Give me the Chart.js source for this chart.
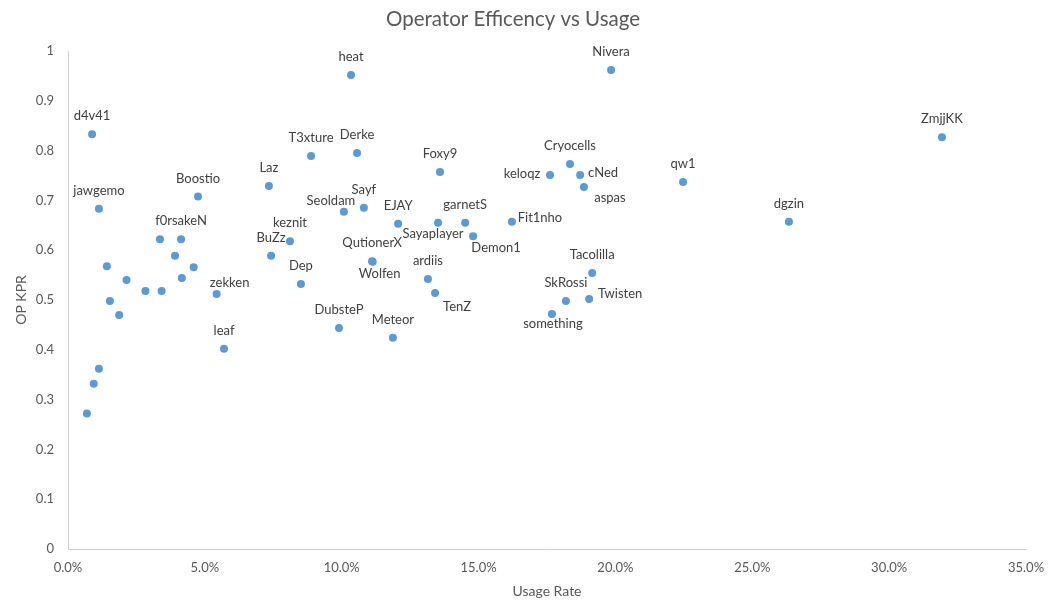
<!DOCTYPE html>
<html>
<head>
<meta charset="utf-8">
<script src="https://cdn.jsdelivr.net/npm/chart.js@4.4.1/dist/chart.umd.min.js"></script>
<style>
body{margin:0;background:#fff}
#wrap{width:1048px;height:610px}
</style>
</head>
<body>
<div id="wrap"><canvas id="chart1"></canvas></div>
<script>
const players = ["d4v41","jawgemo","","","","","","","","","f0rsakeN","","","Boostio","zekken","leaf","","","",
 "Laz","BuZz","keznit","Dep","T3xture","DubsteP","Seoldam","heat","Derke","Sayf","QutionerX","Wolfen","Meteor","EJAY",
 "ardiis","TenZ","Sayaplayer","Foxy9","garnetS","Demon1","Fit1nho","keloqz","something","SkRossi","Cryocells","cNed",
 "aspas","Twisten","Tacolilla","Nivera","qw1","dgzin","ZmjjKK"]
const usage = [0.88,1.13,1.42,1.53,1.87,2.14,2.83,3.36,3.42,3.91,4.13,4.16,4.59,4.75,5.43,5.70,1.13,0.94,0.69,
 7.34,7.42,8.11,8.51,8.88,9.90,10.08,10.34,10.56,10.81,11.11,11.13,11.87,12.06,
 13.15,13.41,13.52,13.59,14.51,14.80,16.22,17.61,17.68,18.19,18.34,18.71,
 18.85,19.04,19.15,19.84,22.47,26.34,31.93]
const kpr = [0.833,0.683,0.568,0.498,0.470,0.540,0.518,0.622,0.518,0.589,0.622,0.544,0.566,0.708,0.512,0.402,0.362,0.332,0.272,
 0.729,0.589,0.618,0.532,0.789,0.444,0.677,0.952,0.795,0.685,0.578,0.577,0.424,0.653,
 0.542,0.514,0.655,0.757,0.655,0.628,0.657,0.751,0.472,0.498,0.773,0.751,
 0.727,0.502,0.554,0.962,0.737,0.657,0.827]

// label offsets from the point (default is above)
const labelShift = {zekken:[13,-11],Seoldam:[-13,-11],Sayaplayer:[-5,11],Demon1:[23,12],Wolfen:[7,12],
 TenZ:[22,14],keloqz:[-28,-1],cNed:[23,-2],aspas:[26,11],Fit1nho:[28,-4],Twisten:[31,-5],something:[1,10]}

const points = usage.map((u,i)=>({x:u, y:kpr[i], name:players[i]}))

const nameLabels = {
  id:'nameLabels',
  afterDatasetsDraw(chart){
    var ctx = chart.ctx
    var meta = chart.getDatasetMeta(0)
    ctx.save()
    ctx.font = '13px Lato'
    ctx.fillStyle = '#404040'
    ctx.textAlign = 'center'
    ctx.textBaseline = 'middle'
    meta.data.forEach((el,i)=>{
      var n = points[i].name
      if(!n) return
      var s = labelShift[n] || [0,-18]
      ctx.fillText(n, el.x+s[0], el.y+s[1])
    })
    ctx.restore()
  }
}

function noPad(scale){
  scale.paddingLeft = 0; scale.paddingRight = 0
  scale.paddingTop = 0; scale.paddingBottom = 0
}

new Chart(document.getElementById('chart1'), {
  type:'scatter',
  data:{datasets:[{data:points, backgroundColor:'#5B9BD5', borderWidth:0, pointRadius:4, pointHoverRadius:4}]},
  options:{
    animation:false,
    responsive:true,
    maintainAspectRatio:false,
    layout:{padding:{left:0,right:22,top:0,bottom:0}},
    plugins:{
      legend:{display:false},
      tooltip:{enabled:false},
      title:{display:true, text:'Operator Efficency vs Usage', color:'#595959',
        font:{family:'Lato', size:20.5, weight:'normal'}, padding:{top:7,bottom:19.4}}
    },
    scales:{
      x:{type:'linear', min:0, max:35,
        grid:{display:false, drawTicks:false},
        border:{display:true, color:'#d0d0d0', width:1},
        ticks:{stepSize:5, padding:11, color:'#595959', font:{family:'Lato', size:13},
          callback:v=>v.toFixed(1)+'%'},
        title:{display:true, text:'Usage Rate', color:'#595959', font:{family:'Lato', size:14},
          padding:{top:4,bottom:10}},
        afterFit(s){ s.height = 61; noPad(s) }
      },
      y:{type:'linear', min:0, max:1,
        grid:{display:false, drawTicks:false},
        border:{display:true, color:'#d0d0d0', width:1},
        ticks:{stepSize:0.1, padding:14, color:'#595959', font:{family:'Lato', size:13},
          callback:v=>String(Math.round(v*10)/10)},
        title:{display:true, text:'OP KPR', color:'#595959', font:{family:'Lato', size:14},
          padding:{top:13,bottom:0}},
        afterFit(s){ s.width = 68; noPad(s) }
      }
    }
  },
  plugins:[nameLabels]
})
</script>
</body>
</html>
